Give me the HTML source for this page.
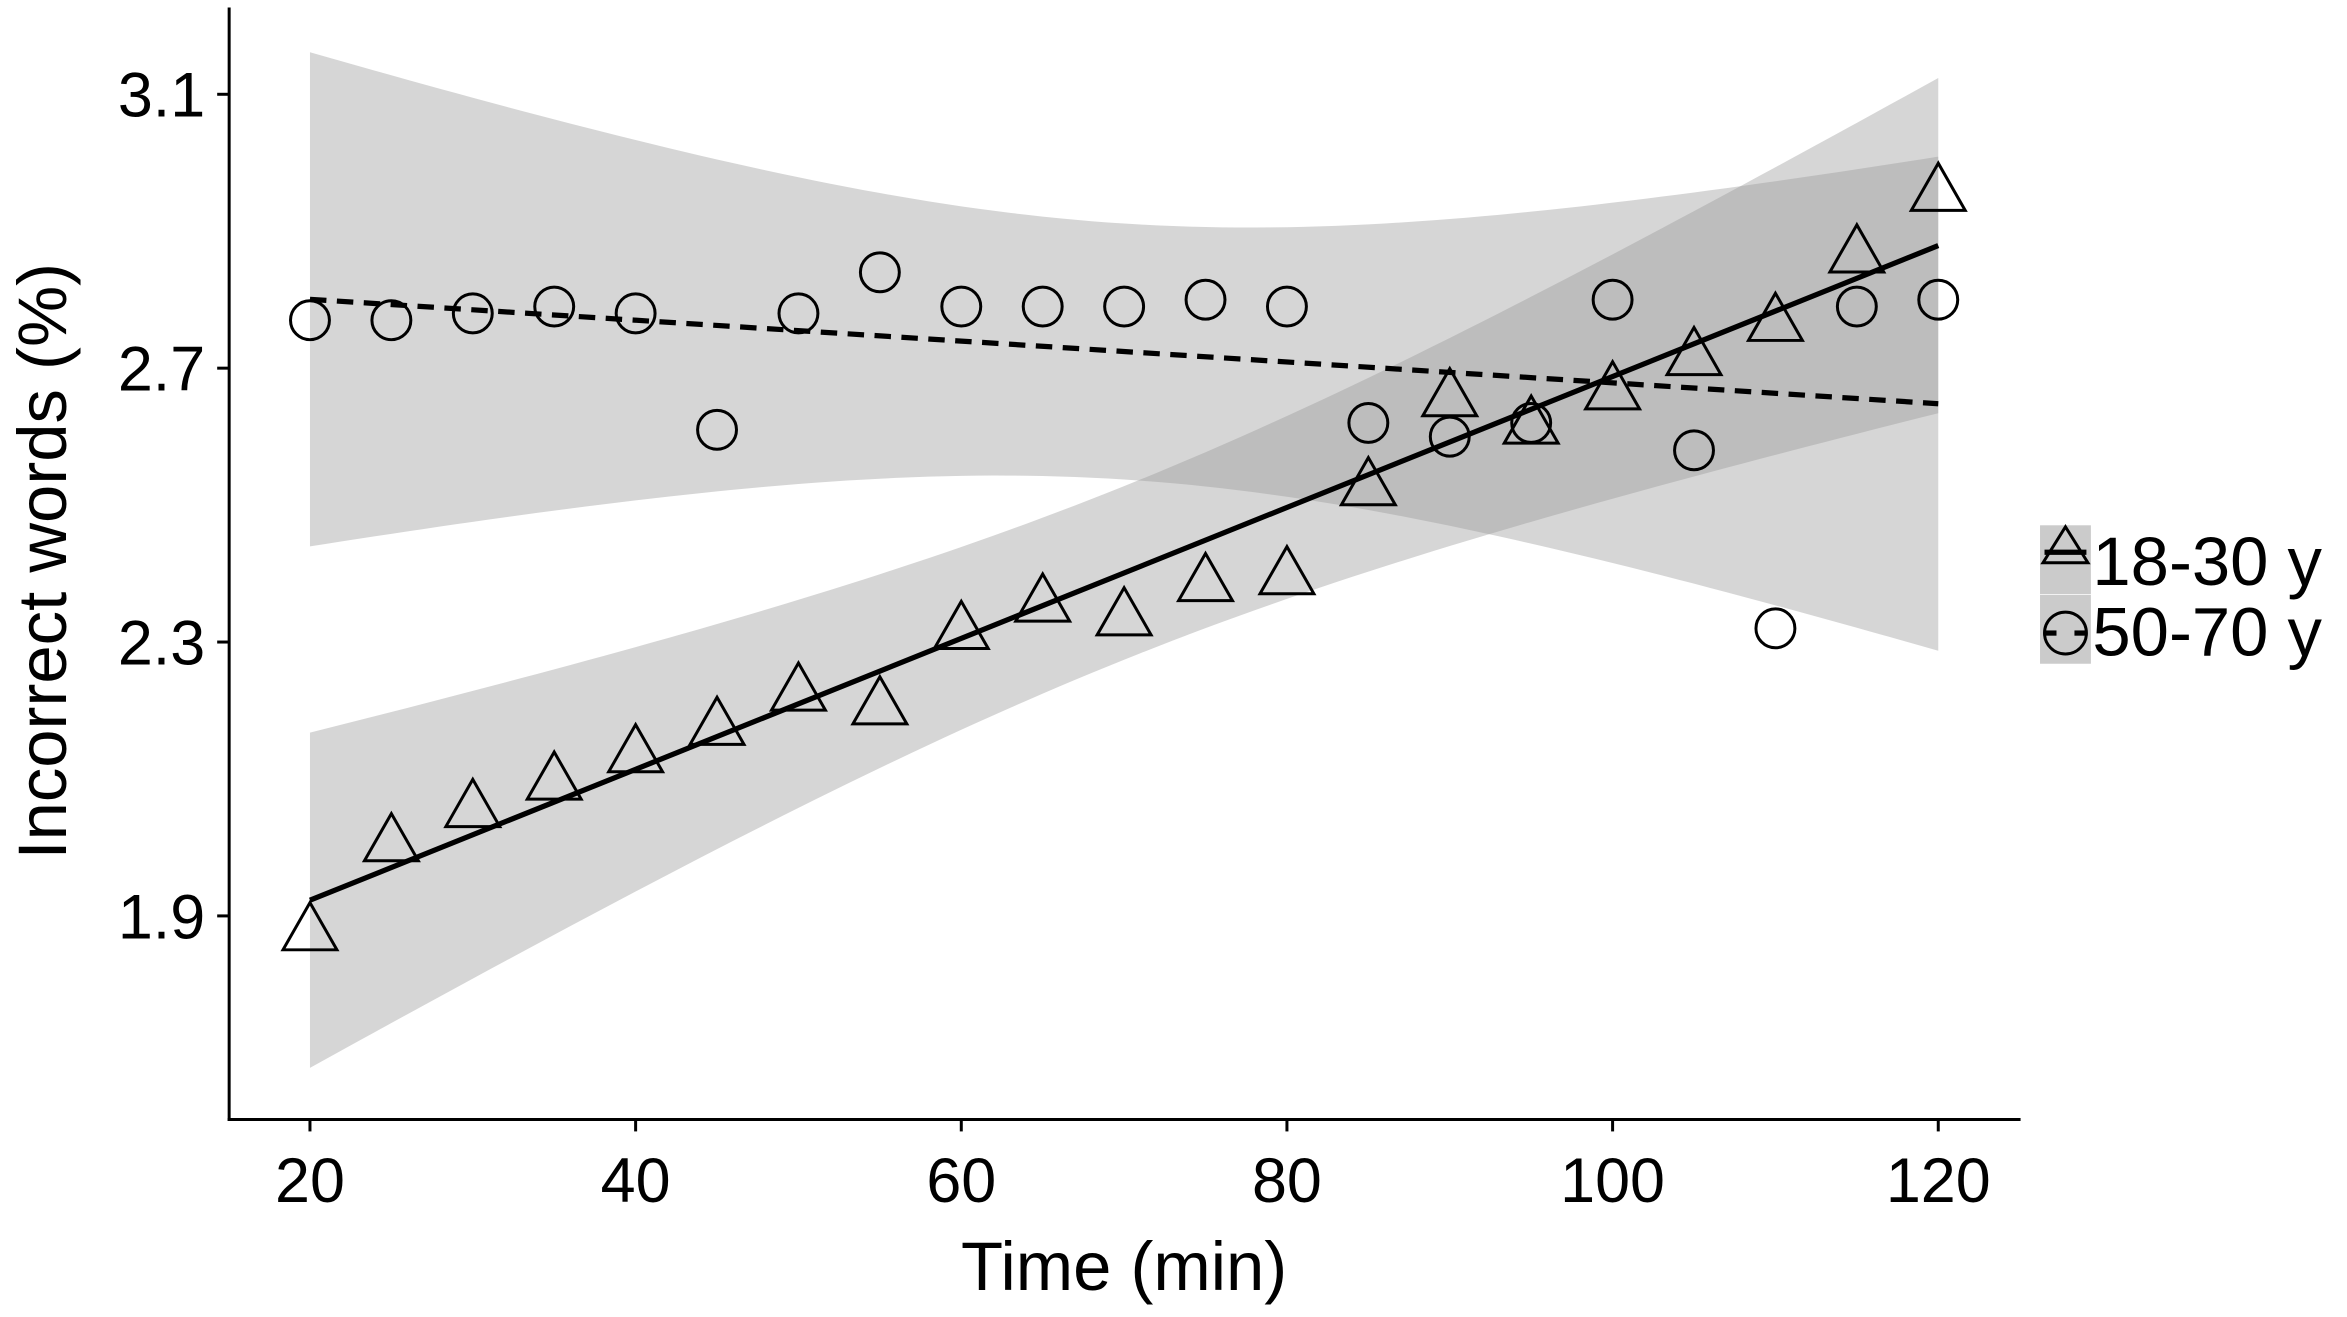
<!DOCTYPE html>
<html><head><meta charset="utf-8"><style>html,body{margin:0;padding:0;background:#fff}svg{display:block}</style></head>
<body>
<svg id="chart" width="2347" height="1317" viewBox="0 0 1568 880" xmlns="http://www.w3.org/2000/svg" font-family="'Liberation Sans', sans-serif">
</svg>
<script>
const times = [20,25,30,35,40,45,50,55,60,65,70,75,80,85,90,95,100,105,110,115,120];
const young = [1.88,2.01,2.06,2.10,2.14,2.18,2.23,2.21,2.32,2.36,2.34,2.39,2.40,2.53,2.66,2.62,2.67,2.72,2.77,2.87,2.96];
const old = [2.77,2.77,2.78,2.79,2.78,2.61,2.78,2.84,2.79,2.79,2.79,2.80,2.79,2.62,2.60,2.62,2.80,2.58,2.32,2.79,2.80];
const xTicks = [20,40,60,80,100,120];
const yTicks = [1.9,2.3,2.7,3.1];

const svg = document.getElementById('chart');
const NS = 'http://www.w3.org/2000/svg';
const X = v => 207 + (v-20)*(1295-207)/100;
const Y = v => 63 + (3.1-v)*(612-63)/1.2;
function mk(tag, attrs, parent){const e=document.createElementNS(NS,tag);for(const k in attrs)e.setAttribute(k,attrs[k]);(parent||svg).appendChild(e);return e;}

function fit(xs, ys){
  const n=xs.length, mx=xs.reduce((a,b)=>a+b)/n, my=ys.reduce((a,b)=>a+b)/n;
  let sxx=0,sxy=0; xs.forEach((x,i)=>{sxx+=(x-mx)**2;sxy+=(x-mx)*(ys[i]-my);});
  const b=sxy/sxx, a=my-b*mx; let sse=0; xs.forEach((x,i)=>{sse+=(ys[i]-a-b*x)**2;});
  const s=Math.sqrt(sse/(n-2));
  return {a,b,se:x=>s*Math.sqrt(1/n+(x-mx)**2/sxx)};
}
function band(f,k,name){
  let up=[],lo=[];
  for(let x=20;x<=120;x+=1){const y=f.a+f.b*x,e=k*f.se(x);up.push(X(x)+','+Y(y+e));lo.unshift(X(x)+','+Y(y-e));}
  const p=mk('polygon',{points:up.concat(lo).join(' '),fill:'rgb(153,153,153)','fill-opacity':0.4});
  
  
}
const fy=fit(times,young), fo=fit(times,old);
band(fy,2.093*6,'ci-band-18-30');
band(fo,2.093*3.5,'ci-band-50-70');
let l=mk('line',{x1:X(20),y1:Y(fy.a+fy.b*20),x2:X(120),y2:Y(fy.a+fy.b*120),stroke:'#000','stroke-width':3.5});


l=mk('line',{x1:X(20),y1:Y(fo.a+fo.b*20),x2:X(120),y2:Y(fo.a+fo.b*120),stroke:'#000','stroke-width':3.5,'stroke-dasharray':'11 7'});



function tri(cx,cy,parent){const h=30,w=36;return mk('polygon',{points:`${cx},${cy-h*0.6} ${cx-w/2},${cy+h*0.45} ${cx+w/2},${cy+h*0.45}`,fill:'none',stroke:'#000','stroke-width':2},parent);}
times.forEach((tv,i)=>{
  const c=mk('circle',{cx:X(tv),cy:Y(old[i]),r:13,fill:'none',stroke:'#000','stroke-width':2});
  
  
  const p=tri(X(tv),Y(young[i]));
  
  
});

let ax=mk('line',{x1:153,y1:5,x2:153,y2:749,stroke:'#000','stroke-width':2});


ax=mk('line',{x1:152,y1:748,x2:1350,y2:748,stroke:'#000','stroke-width':2});


xTicks.forEach(v=>{
  mk('line',{x1:X(v),y1:748,x2:X(v),y2:756,stroke:'#000','stroke-width':2});
  const tx=mk('text',{x:X(v),y:803,'text-anchor':'middle','font-size':42});
  tx.textContent=v;
  
  
});
yTicks.forEach(v=>{
  mk('line',{x1:145,y1:Y(v),x2:153,y2:Y(v),stroke:'#000','stroke-width':2});
  const tx=mk('text',{x:137,y:Y(v)+15,'text-anchor':'end','font-size':42});
  tx.textContent=v.toFixed(1);
  
  
});
let tt=mk('text',{x:751,y:862,'text-anchor':'middle','font-size':46});
tt.textContent='Time (min)';


tt=mk('text',{x:0,y:0,'text-anchor':'middle','font-size':46,transform:'translate(44,375) rotate(-90)'});
tt.textContent='Incorrect words (%)';



const lg=mk('g',{});


mk('rect',{x:1363,y:351,width:34,height:46,fill:'#cbcbcb'},lg);
mk('rect',{x:1363,y:397.5,width:34,height:46,fill:'#cbcbcb'},lg);
mk('polygon',{points:'1380,352 1365,376 1395,376',fill:'none',stroke:'#000','stroke-width':2},lg);
mk('line',{x1:1366,y1:369,x2:1394,y2:369,stroke:'#000','stroke-width':3.5},lg);
mk('circle',{cx:1380,cy:423,r:14,fill:'none',stroke:'#000','stroke-width':2},lg);
mk('line',{x1:1366,y1:423,x2:1374,y2:423,stroke:'#000','stroke-width':3.5},lg);
mk('line',{x1:1386,y1:423,x2:1394,y2:423,stroke:'#000','stroke-width':3.5},lg);
let e=mk('text',{x:1398,y:391,'font-size':46},lg);
e.textContent='18-30 y';


e=mk('text',{x:1398,y:438,'font-size':46},lg);
e.textContent='50-70 y';


</script>
</body></html>
